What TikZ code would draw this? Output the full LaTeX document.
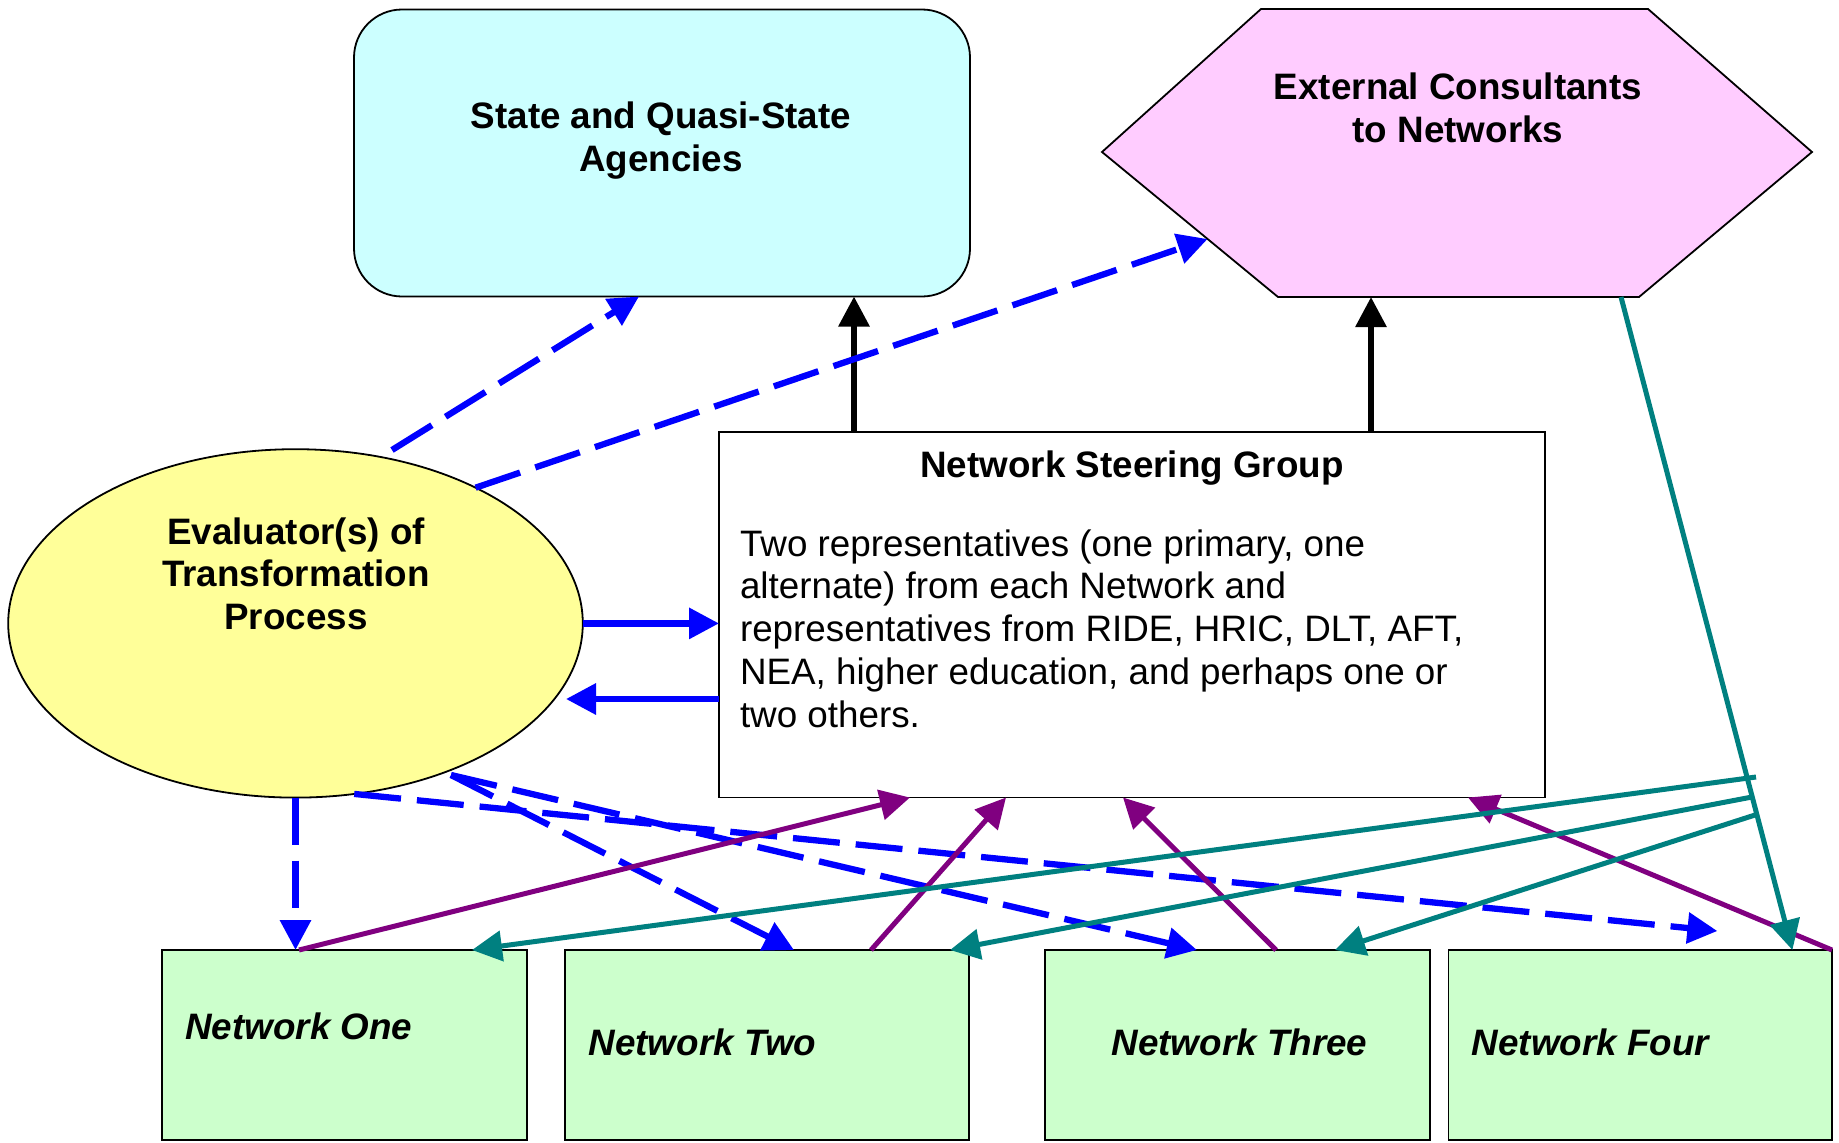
\documentclass[tikz,border=0pt]{standalone}
\usepackage{fontspec}
\setmainfont{Liberation Sans}
\usetikzlibrary{arrows.meta,shapes.geometric,calc}

\definecolor{bluec}{RGB}{0,0,255}
\definecolor{purp}{RGB}{128,0,128}
\definecolor{tealc}{RGB}{0,128,128}
\definecolor{cyanfill}{RGB}{204,255,255}
\definecolor{pinkfill}{RGB}{255,204,255}
\definecolor{yellowfill}{RGB}{255,255,153}
\definecolor{greenfill}{RGB}{204,255,204}

\begin{document}
\begin{tikzpicture}[x=1pt,y=-1pt,
  every node/.style={inner sep=0pt, outer sep=0pt},
  txt/.style={font=\fontsize{36.8}{42.9}\selectfont},
  boldtxt/.style={font=\fontsize{36.8}{42.9}\selectfont\bfseries},
  netname/.style={font=\fontsize{36.8}{42.9}\selectfont\bfseries\itshape},
  shapeline/.style={draw=black, line width=1.8pt},
  netbox/.style={shapeline, fill=greenfill, minimum height=190pt},
  tiphead/.style={-{Triangle[length=30pt,width=30pt]}},
  blueline/.style={draw=bluec, line width=6.3pt, tiphead},
  bluedash/.style={blueline, dash pattern=on 47pt off 16pt},
  purpline/.style={draw=purp, line width=5pt, tiphead},
  tealline/.style={draw=tealc, line width=5pt, tiphead},
  blackline/.style={draw=black, line width=6pt, tiphead}
]
\useasboundingbox (0,0) rectangle (1839,1143);
\fill[white] (0,0) rectangle (1839,1143);

% State box
\node[shapeline, fill=cyanfill, rounded corners=48pt, minimum width=616pt, minimum height=287pt] (state) at (662,153) {};
\node[boldtxt, align=center, anchor=base] (statetext) at (661,171) {State and Quasi-State\\Agencies};

% Hexagon
\coordinate (hL) at (1102,152);
\coordinate (hTL) at (1261,9);
\coordinate (hTR) at (1648,9);
\coordinate (hR) at (1812,152);
\coordinate (hBR) at (1639,297);
\coordinate (hBL) at (1278,297);
\draw[shapeline, fill=pinkfill] (hL) -- (hTL) -- (hTR) -- (hR) -- (hBR) -- (hBL) -- cycle;
\node[boldtxt, align=center, anchor=base] (exttext) at (1458,142) {External Consultants\\to Networks};

% Network Steering Group
\node[shapeline, fill=white, minimum width=826pt, minimum height=365.5pt] (nsg) at (1132,614.75) {};
\node[boldtxt, anchor=base] (nsgtitle) at (1132,477) {Network Steering Group};
\node[txt, align=left, anchor=base west] (nsgbody) at (740,727.6) {Two representatives (one primary, one\\alternate) from each Network and\\representatives from RIDE, HRIC, DLT, AFT,\\NEA, higher education, and perhaps one or\\two others.};

% Evaluator ellipse
\node[shapeline, ellipse, fill=yellowfill, minimum width=574.6pt, minimum height=348.4pt] (eval) at (295.5,623.4) {};
\node[boldtxt, align=center, anchor=base] (evaltext) at (296,629.8) {Evaluator(s) of\\Transformation\\Process};

% Networks
\node[netbox, minimum width=364.6pt] (one) at (344.3,1045) {};
\node[netbox, minimum width=403.7pt] (two) at (766.85,1045) {};
\node[netbox, minimum width=384.6pt] (three) at (1237.3,1045) {};
\node[netbox, minimum width=383.6pt] (four) at (1640.2,1045) {};
\node[netname, anchor=base west] (onet) at (185.3,1039) {Network One};
\node[netname, anchor=base west] (twot) at (588.7,1055.5) {Network Two};
\node[netname, anchor=base] (threet) at (1239.5,1055.5) {Network Three};
\node[netname, anchor=base west] (fourt) at (1471.9,1055.5) {Network Four};

% helper coordinates (free ends)
\coordinate (bl2end) at (566,699);
\coordinate (d1s) at (392,450);
\coordinate (d4e) at ($(four.north west)+(269,-19)$);
\coordinate (d56s) at (451,775);
\coordinate (t2s) at (1756,777);
\coordinate (t3s) at (1752,797);
\coordinate (t4s) at (1755,815);

% black arrows
\draw[blackline] ($(nsg.north west)+(135,0)$) -- ($(state.south west)+(500,0)$);
\draw[blackline] ($(nsg.north west)+(652,0)$) -- ($(hBL)+(93,0)$);

% blue solid
\draw[blueline] (eval.east) -- (eval.east -| nsg.west);
\draw[blueline] (nsg.west |- bl2end) -- (bl2end);

% blue dashed
\draw[bluedash] (d1s) -- ($(state.south west)+(285,0)$);
\draw[bluedash] (eval.37.8) -- ($(hL)!0.6!(hBL)$);
\draw[bluedash] (eval.south) -- (eval.south |- one.north);
\draw[bluedash] (eval.-71) -- (d4e);
\draw[bluedash] (d56s) -- ($(two.north west)+(229,0)$);
\draw[bluedash] (d56s) -- ($(three.north west)+(152,0)$);

% purple
\draw[purpline] ($(one.north west)+(137,0)$) -- ($(nsg.south west)+(191,0)$);
\draw[purpline] ($(two.north west)+(306,0)$) -- ($(nsg.south west)+(287,0)$);
\draw[purpline] ($(three.north west)+(231,0)$) -- ($(nsg.south west)+(404,0)$);
\draw[purpline] (four.north east) -- ($(nsg.south west)+(749,0)$);

% teal
\draw[tealline] ($(hBL)+(343,0)$) -- ($(four.north west)+(344,0)$);
\draw[tealline] (t2s) -- ($(one.north west)+(310,0)$);
\draw[tealline] (t3s) -- ($(two.north west)+(385,0)$);
\draw[tealline] (t4s) -- ($(three.north west)+(290,0)$);
\end{tikzpicture}
\end{document}
